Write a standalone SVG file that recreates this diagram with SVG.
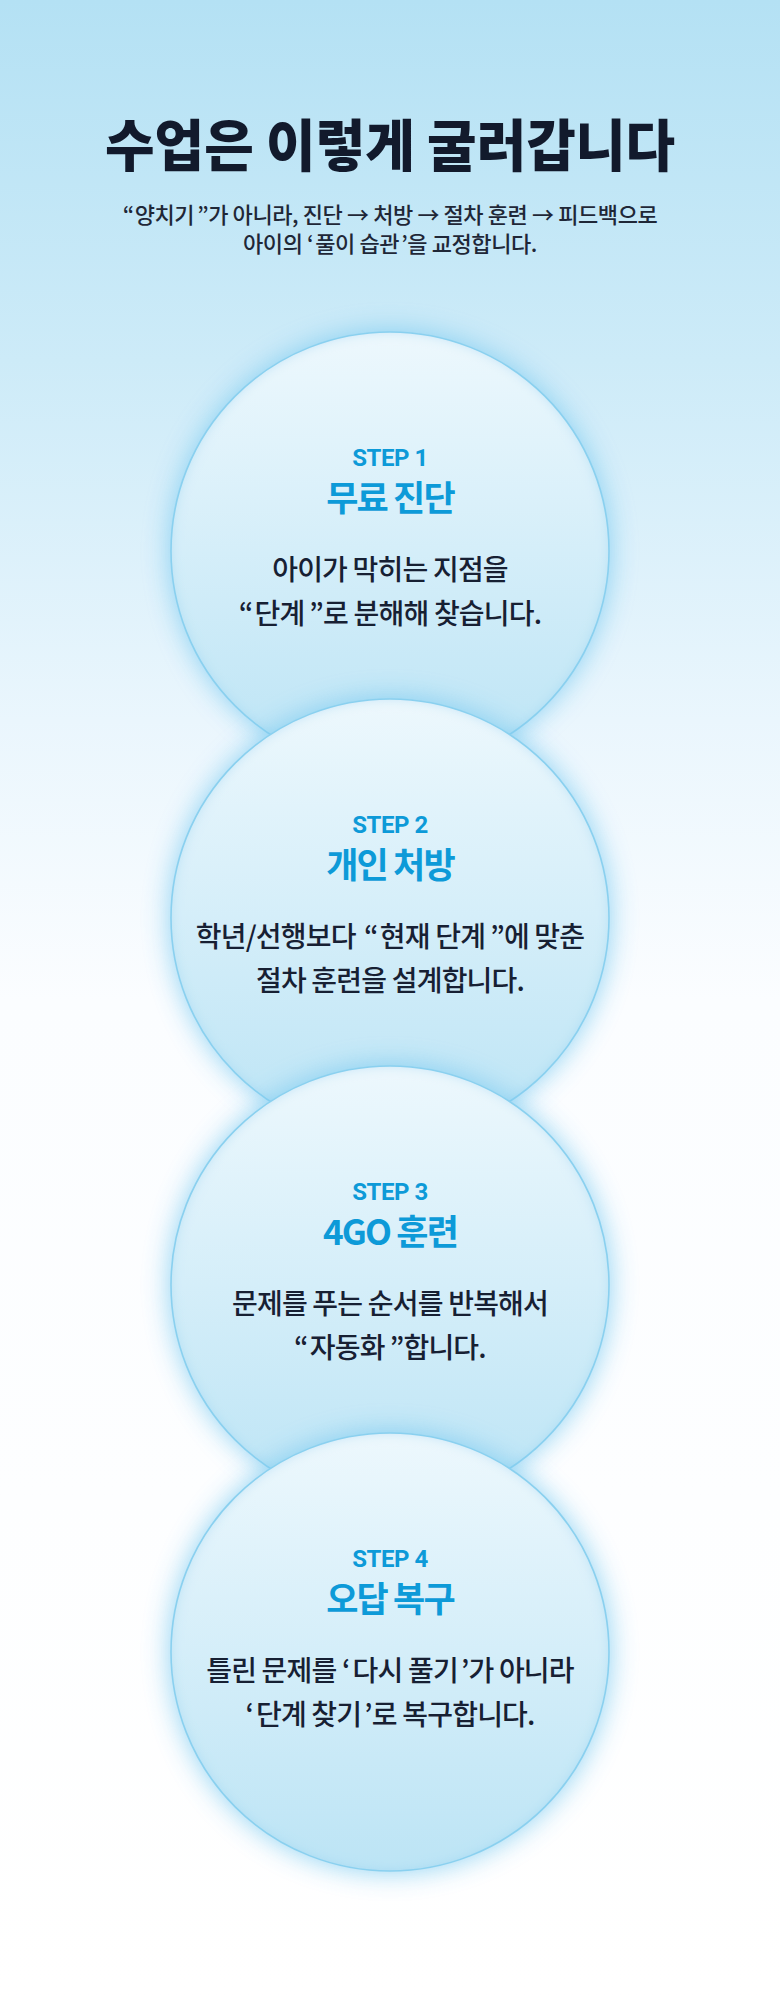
<svg xmlns="http://www.w3.org/2000/svg" width="780" height="2000" viewBox="0 0 780 2000">
  <defs>
    <linearGradient id="bg" x1="0" y1="0" x2="0" y2="2000" gradientUnits="userSpaceOnUse">
      <stop offset="0" stop-color="#b4e1f4"/>
      <stop offset="0.18" stop-color="#cdebf8"/>
      <stop offset="0.36" stop-color="#eaf6fd"/>
      <stop offset="0.5" stop-color="#fbfdff"/>
      <stop offset="1" stop-color="#ffffff"/>
    </linearGradient>
    <linearGradient id="cf" x1="0" y1="0" x2="0" y2="1">
      <stop offset="0" stop-color="#edf8fd"/>
      <stop offset="1" stop-color="#bce4f5"/>
    </linearGradient>
    <filter id="glow" x="-30%" y="-30%" width="160%" height="160%">
      <feGaussianBlur stdDeviation="14"/>
    </filter>
    <filter id="inner" x="-10%" y="-10%" width="120%" height="120%">
      <feFlood flood-color="#8fd2f1" flood-opacity="0.55" result="c"/>
      <feComposite in="c" in2="SourceAlpha" operator="out" result="inv"/>
      <feGaussianBlur in="inv" stdDeviation="6" result="b"/>
      <feComposite in="b" in2="SourceAlpha" operator="in" result="ins"/>
      <feMerge><feMergeNode in="SourceGraphic"/><feMergeNode in="ins"/></feMerge>
    </filter>
    <style>
      .glow { fill: #7ccaf0; opacity: 0.9; filter: url(#glow); }
      .disc { fill: url(#cf); filter: url(#inner); }
      .ring { fill: none; stroke: #8ad0ef; stroke-width: 1.6; }
      .step { font-family: Roboto, Inter, "Noto Sans CJK KR", sans-serif; font-weight: 700; font-size: 24px; fill: #0d9ad8; text-anchor: middle; letter-spacing: -0.5px; }
      .name { font-family: "Noto Sans CJK KR", sans-serif; font-weight: 700; font-size: 35px; fill: #0d9ad8; text-anchor: middle; letter-spacing: -1.8px; }
      .body { font-family: "Noto Sans CJK KR", sans-serif; font-weight: 500; font-size: 28px; fill: #172033; text-anchor: middle; letter-spacing: -0.8px; }
      .title { font-family: "Noto Sans CJK KR", sans-serif; font-weight: 900; font-size: 56px; fill: #121a2c; text-anchor: middle; }
      .sub { font-family: "Noto Sans CJK KR", sans-serif; font-weight: 500; font-size: 22px; fill: #1f2737; text-anchor: middle; letter-spacing: -0.4px; }
    </style>
  </defs>
  <rect x="0" y="0" width="780" height="2000" fill="url(#bg)"/>

  <g id="header">
    <text class="title" x="390" y="166" textLength="570" lengthAdjust="spacingAndGlyphs">수업은 이렇게 굴러갑니다</text>
    <text class="sub" x="390" y="223">“<tspan dx="1">양치기</tspan><tspan dx="3">”</tspan>가 아니라, 진단 → 처방 → 절차 훈련 → 피드백으로</text>
    <text class="sub" x="390" y="252">아이의 ‘<tspan dx="2">풀이 습관</tspan><tspan dx="2">’</tspan>을 교정합니다.</text>
  </g>

  <g id="connectors"></g>

  <g id="step1">
    <circle class="glow" cx="390" cy="551" r="219"/>
    <circle class="disc" cx="390" cy="551" r="219"/>
    <circle class="ring" cx="390" cy="551" r="219"/>
    <text class="step" x="390" y="466">STEP 1</text>
    <text class="name" x="390" y="511">무료 진단</text>
    <text class="body" x="390" y="580">아이가 막히는 지점을</text>
    <text class="body" x="390" y="624">“<tspan dx="2">단계</tspan><tspan dx="5">”</tspan>로 분해해 찾습니다.</text>
  </g>

  <g id="step2">
    <circle class="glow" cx="390" cy="918" r="219"/>
    <circle class="disc" cx="390" cy="918" r="219"/>
    <circle class="ring" cx="390" cy="918" r="219"/>
    <text class="step" x="390" y="833">STEP 2</text>
    <text class="name" x="390" y="878">개인 처방</text>
    <text class="body" x="390" y="947">학년/선행보다 <tspan dx="3">“</tspan><tspan dx="2">현재 단계</tspan><tspan dx="5">”</tspan>에 맞춘</text>
    <text class="body" x="390" y="991">절차 훈련을 설계합니다.</text>
  </g>

  <g id="step3">
    <circle class="glow" cx="390" cy="1285" r="219"/>
    <circle class="disc" cx="390" cy="1285" r="219"/>
    <circle class="ring" cx="390" cy="1285" r="219"/>
    <text class="step" x="390" y="1200">STEP 3</text>
    <text class="name" x="390" y="1245">4GO 훈련</text>
    <text class="body" x="390" y="1314">문제를 푸는 순서를 반복해서</text>
    <text class="body" x="390" y="1358">“<tspan dx="2">자동화</tspan><tspan dx="5">”</tspan>합니다.</text>
  </g>

  <g id="step4">
    <circle class="glow" cx="390" cy="1652" r="219"/>
    <circle class="disc" cx="390" cy="1652" r="219"/>
    <circle class="ring" cx="390" cy="1652" r="219"/>
    <text class="step" x="390" y="1567">STEP 4</text>
    <text class="name" x="390" y="1612">오답 복구</text>
    <text class="body" x="390" y="1681">틀린 문제를 ‘<tspan dx="3">다시 풀기</tspan><tspan dx="3">’</tspan>가 아니라</text>
    <text class="body" x="390" y="1725">‘<tspan dx="3">단계 찾기</tspan><tspan dx="3">’</tspan>로 복구합니다.</text>
  </g>
</svg>
